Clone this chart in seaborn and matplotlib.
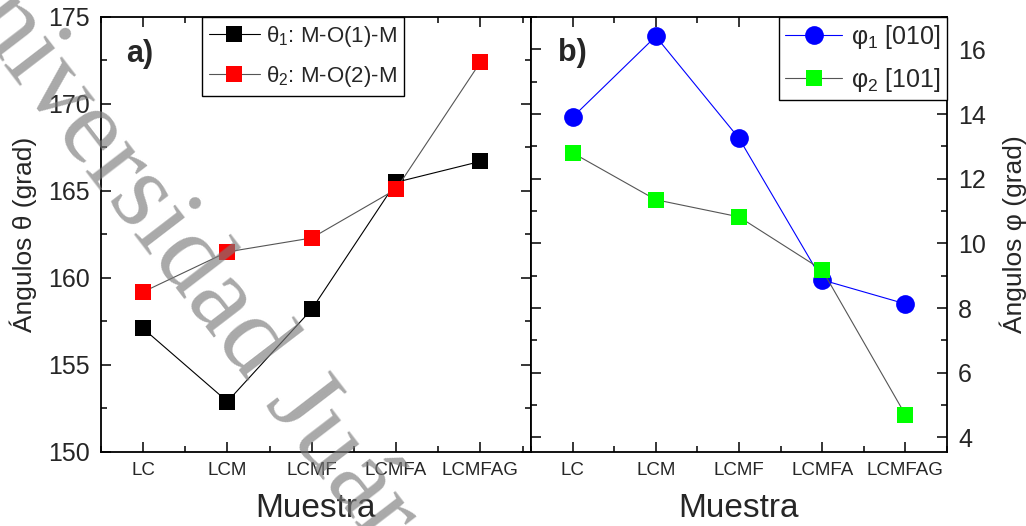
import matplotlib
matplotlib.use("Agg")
import matplotlib.pyplot as plt
import seaborn as sns
from matplotlib.ticker import MultipleLocator

# Samples and measured angles
muestras = ["LC", "LCM", "LCMF", "LCMFA", "LCMFAG"]
theta1 = [157.1, 152.9, 158.2, 165.5, 166.7]   # M-O(1)-M
theta2 = [159.2, 161.5, 162.3, 165.1, 172.4]   # M-O(2)-M
phi1 = [13.9, 16.4, 13.25, 8.87, 8.13]         # [010]
phi2 = [12.8, 11.35, 10.82, 9.18, 4.7]         # [101]

sns.set_theme(style="ticks")
plt.rcParams["font.family"] = ["Liberation Sans", "DejaVu Sans"]
plt.rcParams["mathtext.fontset"] = "custom"
plt.rcParams["mathtext.rm"] = "Liberation Sans"
plt.rcParams["mathtext.it"] = "Liberation Sans:italic"
plt.rcParams["axes.linewidth"] = 1.3

fig = plt.figure(figsize=(10.26, 5.26), dpi=100)
ax_a = fig.add_axes([0.0984, 0.1407, 0.4191, 0.827])
ax_b = fig.add_axes([0.5175, 0.1407, 0.4055, 0.827])

ms = 12
sns.lineplot(x=muestras, y=theta1, ax=ax_a, sort=False, color="black", lw=0.8,
             marker="s", markersize=ms, markerfacecolor="black",
             markeredgecolor="black", markeredgewidth=0,
             label="θ$_1$: M-O(1)-M")
sns.lineplot(x=muestras, y=theta2, ax=ax_a, sort=False, color="#555555", lw=0.8,
             marker="s", markersize=ms, markerfacecolor="#ff0000",
             markeredgecolor="#ff0000", markeredgewidth=0,
             label="θ$_2$: M-O(2)-M")

sns.lineplot(x=muestras, y=phi1, ax=ax_b, sort=False, color="#0000ff", lw=0.8,
             marker="o", markersize=13.5, markerfacecolor="#0000ff",
             markeredgecolor="#0000ff", markeredgewidth=0,
             label="φ$_1$ [010]")
sns.lineplot(x=muestras, y=phi2, ax=ax_b, sort=False, color="#555555", lw=0.8,
             marker="s", markersize=ms, markerfacecolor="#00ff00",
             markeredgecolor="#00ff00", markeredgewidth=0,
             label="φ$_2$ [101]")

# Panel a axes
ax_a.set_xlim(-0.5, 4.6)
ax_a.set_ylim(150, 175)
ax_a.yaxis.set_major_locator(MultipleLocator(5))
ax_a.yaxis.set_minor_locator(MultipleLocator(2.5))
ax_a.set_ylabel("Ángulos θ (grad)", fontsize=19, labelpad=8)

# Panel b axes
ax_b.set_xlim(-0.5, 4.5)
ax_b.set_ylim(3.55, 17.0)
ax_b.yaxis.set_major_locator(MultipleLocator(2))
ax_b.yaxis.set_minor_locator(MultipleLocator(1))
ax_b.yaxis.set_label_position("right")
ax_b.set_ylabel("Ángulos φ (grad)", fontsize=19, labelpad=10)

for ax in (ax_a, ax_b):
    ax.xaxis.set_minor_locator(MultipleLocator(0.5))
    ax.set_xlabel("Muestra", fontsize=24, labelpad=10)
    ax.tick_params(which="both", direction="in", top=True, bottom=True,
                   left=True, right=True, color="black", width=1.1)
    ax.tick_params(which="major", length=7)
    ax.tick_params(which="minor", length=4)
    ax.tick_params(axis="x", labelsize=13.5, pad=7)
    ax.tick_params(axis="y", labelsize=18, pad=8)
    for s in ax.spines.values():
        s.set_color("black")
        s.set_linewidth(1.3)

ax_a.tick_params(axis="y", labelleft=True, labelright=False)
ax_b.tick_params(axis="y", labelleft=False, labelright=True)

ax_a.text(0.058, 0.915, "a)", transform=ax_a.transAxes, fontsize=22,
          fontweight="bold", ha="left", va="center")
ax_b.text(0.065, 0.918, "b)", transform=ax_b.transAxes, fontsize=22,
          fontweight="bold", ha="left", va="center")

leg_kw = dict(frameon=True, fancybox=False, borderaxespad=0,
              handlelength=2.3, edgecolor="black", framealpha=1)
la = ax_a.legend(loc="upper left", bbox_to_anchor=(0.235, 1.0),
                 fontsize=16, handletextpad=0.3, borderpad=0.3,
                 labelspacing=0.7, **leg_kw)
lb = ax_b.legend(loc="upper right", bbox_to_anchor=(1.0, 1.0),
                 fontsize=18, handletextpad=0.35, borderpad=0.25,
                 labelspacing=0.6, **leg_kw)
for lg in (la, lb):
    lg.get_frame().set_linewidth(1.0)

# Diagonal watermark across the figure
fig.text(-0.077, 1.082, "Universidad Juárez", rotation=-52.5,
         rotation_mode="anchor", ha="left", va="baseline", fontsize=79,
         family="Liberation Serif", color="#7b7b7b", alpha=0.65, zorder=10)

fig.savefig("out.png", dpi=100)
